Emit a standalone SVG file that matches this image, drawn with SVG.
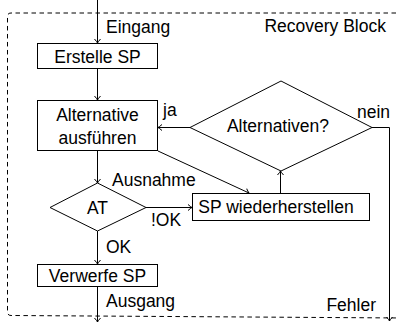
<svg xmlns="http://www.w3.org/2000/svg" width="399" height="322" viewBox="0 0 399 322">
  <style>
    text { font-family: "Liberation Sans", Arial, sans-serif; font-size: 17.5px; fill: #000; }
    .mid { text-anchor: middle; }
    .shape { fill: #fff; stroke: #000; stroke-width: 1; }
    .edge { fill: none; stroke: #000; stroke-width: 1; marker-end: url(#arrow); }
    .frame { fill: none; stroke: #000; stroke-width: 1; stroke-dasharray: 4.5 3.5; }
  </style>
  <defs>
    <marker id="arrow" viewBox="-5 -4 6 8" markerWidth="6" markerHeight="8" refX="0" refY="0" orient="auto" markerUnits="userSpaceOnUse">
      <path d="M -4,-3 Q -1.2,-0.6 0,0 Q -1.2,0.6 -4,3" fill="none" stroke="#000" stroke-width="1"/>
    </marker>
  </defs>

  <!-- dashed boundary of the recovery block -->
  <g id="recovery-block">
    <path class="frame" d="M 404,13 L 11,13 Q 7.5,13 7.5,16.5 L 7.5,312 Q 7.5,315.5 11,315.5 L 404,318"/>
    <text x="386" y="32" text-anchor="end">Recovery Block</text>
  </g>

  <!-- connectors -->
  <g id="connectors">
    <line class="edge" x1="97.5" y1="0" x2="97.5" y2="43"/>
    <line class="edge" x1="97.5" y1="69" x2="97.5" y2="100"/>
    <line class="edge" x1="97.5" y1="151" x2="97.5" y2="183"/>
    <line class="edge" x1="146" y1="207.5" x2="192" y2="207.5"/>
    <line class="edge" x1="158" y1="151" x2="249" y2="193"/>
    <line class="edge" x1="280.5" y1="193" x2="280.5" y2="171"/>
    <line class="edge" x1="190" y1="127.5" x2="158" y2="127.5"/>
    <polyline class="edge" points="372,127.5 389.5,127.5 389.5,321"/>
    <line class="edge" x1="97.5" y1="231" x2="97.5" y2="264"/>
    <line class="edge" x1="97.5" y1="286" x2="97.5" y2="322"/>
    <text x="106" y="33">Eingang</text>
    <text x="163" y="116">ja</text>
    <text x="357" y="118">nein</text>
    <text x="112" y="186">Ausnahme</text>
    <text x="151" y="226">!OK</text>
    <text x="106" y="253">OK</text>
    <text x="106" y="307">Ausgang</text>
    <text x="376" y="311" text-anchor="end">Fehler</text>
  </g>

  <g id="create-sp">
    <rect class="shape" x="37.5" y="43.5" width="120" height="25"/>
    <text class="mid" x="97.5" y="62.5">Erstelle SP</text>
  </g>

  <g id="run-alternative">
    <rect class="shape" x="37.5" y="100.5" width="120" height="50"/>
    <text class="mid" x="97.5" y="121">Alternative</text>
    <text class="mid" x="97.5" y="144">ausführen</text>
  </g>

  <g id="more-alternatives">
    <polygon class="shape" points="281,81 372,127.5 281,171 190,127.5"/>
    <text class="mid" x="278" y="132">Alternativen?</text>
  </g>

  <g id="acceptance-test">
    <polygon class="shape" points="97.5,183 146,207.5 97.5,231 50,207.5"/>
    <text class="mid" x="97.5" y="214">AT</text>
  </g>

  <g id="restore-sp">
    <rect class="shape" x="192.5" y="193.5" width="177" height="27"/>
    <text class="mid" x="276" y="213">SP wiederherstellen</text>
  </g>

  <g id="discard-sp">
    <rect class="shape" x="37.5" y="264.5" width="120" height="22"/>
    <text class="mid" x="97.5" y="282">Verwerfe SP</text>
  </g>
</svg>
